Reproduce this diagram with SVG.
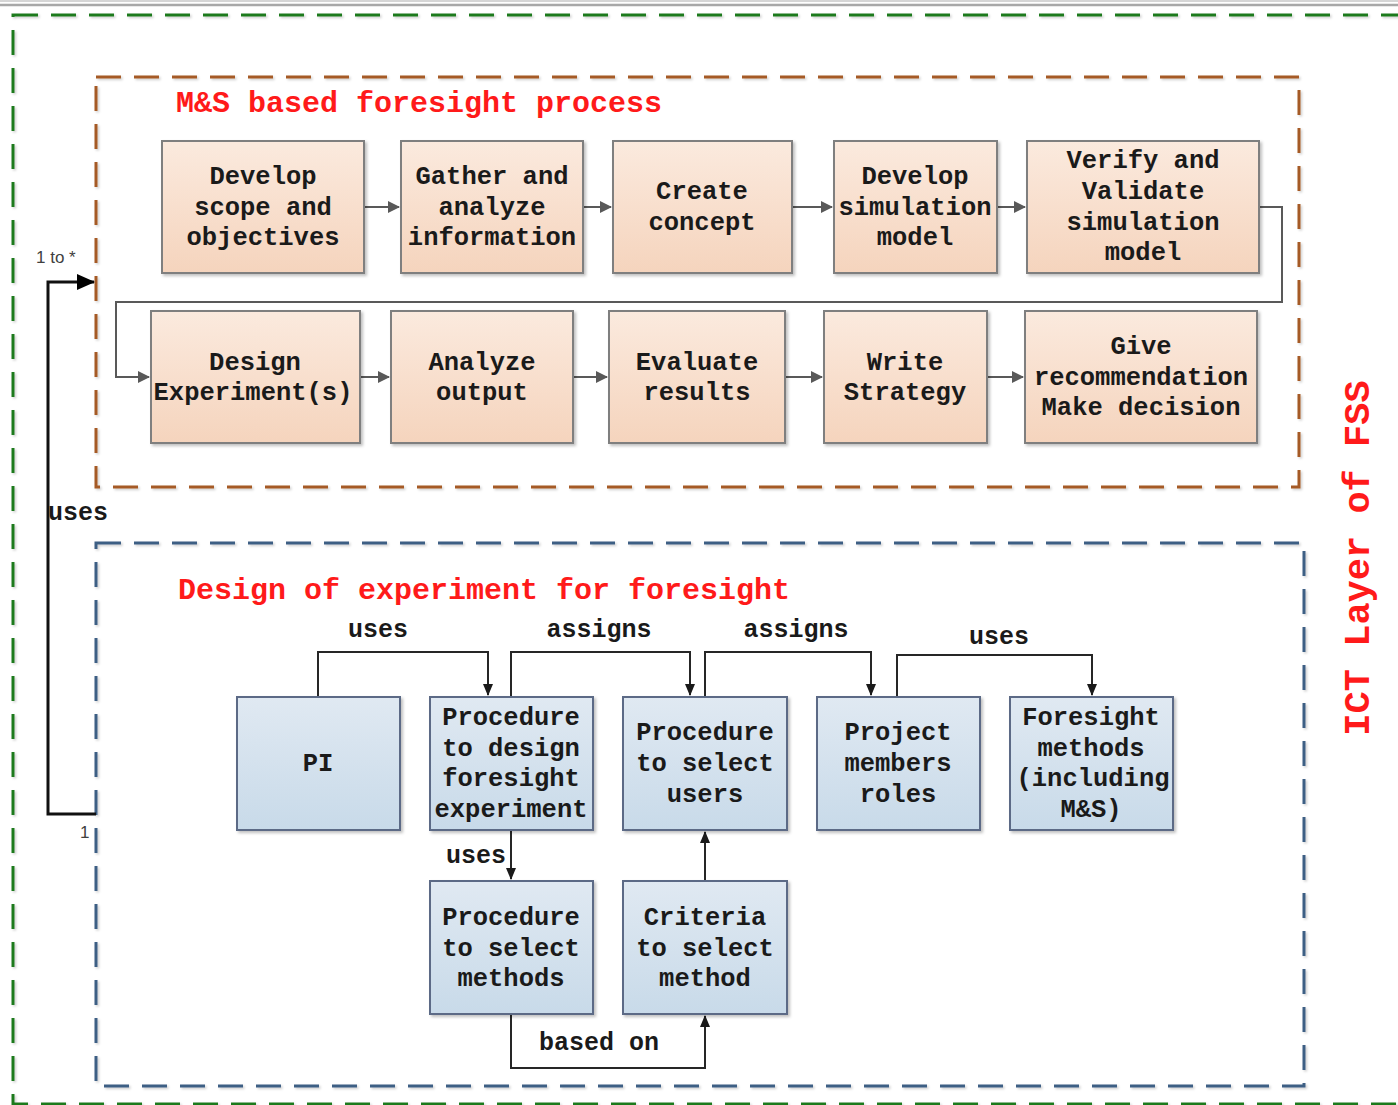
<svg xmlns="http://www.w3.org/2000/svg" width="1398" height="1105" viewBox="0 0 1398 1105">
<style>
.t{font-family:"Liberation Mono","Courier New",monospace;font-weight:bold;font-size:25.5px;fill:#1a1a1a;text-anchor:middle}
.lbl{font-family:"Liberation Mono","Courier New",monospace;font-weight:bold;font-size:25px;fill:#1a1a1a;text-anchor:middle}
.title{font-family:"Liberation Mono","Courier New",monospace;font-weight:bold;font-size:30px;fill:#ff1a1a}
.peach{fill:url(#gp);stroke:#7f7f7f;stroke-width:2;filter:url(#sh)}
.blue{fill:url(#gb);stroke:#5b6b86;stroke-width:2;filter:url(#sh)}
.gc{fill:none;stroke:#595959;stroke-width:2}
.bc{fill:none;stroke:#262626;stroke-width:2}
.dash{fill:none;stroke-width:3;stroke-dasharray:25 13;filter:url(#sh2)}
.small{font-family:"Liberation Sans",Arial,sans-serif;font-size:17px;fill:#404040}
</style>
<defs>
<linearGradient id="gp" x1="0" y1="0" x2="0" y2="1"><stop offset="0" stop-color="#fbeade"/><stop offset="1" stop-color="#f5d4bd"/></linearGradient>
<linearGradient id="gb" x1="0" y1="0" x2="0" y2="1"><stop offset="0" stop-color="#e0e9f2"/><stop offset="1" stop-color="#c8dae9"/></linearGradient>
<filter id="sh" x="-10%" y="-10%" width="120%" height="120%"><feDropShadow dx="2" dy="2" stdDeviation="1.5" flood-color="#000" flood-opacity="0.25"/></filter>
<filter id="sh2" x="-5%" y="-5%" width="110%" height="110%"><feDropShadow dx="1.5" dy="1.5" stdDeviation="1" flood-color="#000" flood-opacity="0.2"/></filter>
<marker id="ag" markerWidth="12" markerHeight="12" refX="11" refY="6" orient="auto" markerUnits="userSpaceOnUse"><path d="M0,0 L12,6 L0,12 z" fill="#595959"/></marker>
<marker id="ab" markerWidth="12" markerHeight="12" refX="11" refY="6" orient="auto" markerUnits="userSpaceOnUse"><path d="M0,1 L12,6 L0,11 z" fill="#1a1a1a"/></marker>
<marker id="ak" markerWidth="20" markerHeight="20" refX="17" refY="9" orient="auto" markerUnits="userSpaceOnUse"><path d="M0,1 L18,9 L0,17 z" fill="#000"/></marker>
</defs>
<rect width="1398" height="1105" fill="#fff"/>
<line x1="0" y1="1" x2="1398" y2="1" stroke="#c8c8c8" stroke-width="1.5"/>
<line x1="0" y1="5" x2="1398" y2="5" stroke="#a8a8a8" stroke-width="2.5"/>

<g id="frames">
<rect class="dash" x="13" y="15" width="1420" height="1089" stroke="#1e7a1e"/>
<rect class="dash" x="96" y="77" width="1203" height="410" stroke="#a55a26"/>
<rect class="dash" x="96" y="543" width="1208" height="543" stroke="#3d5f84"/>
</g>

<g id="titles">
<text class="title" x="176" y="112">M&amp;S based foresight process</text>
<text class="title" x="178" y="599">Design of experiment for foresight</text>
<text class="title" transform="translate(1369,558) rotate(-90)" text-anchor="middle" style="font-size:37px">ICT Layer of FSS</text>
</g>

<g id="connectors">
<path class="gc" d="M364,207 H399" marker-end="url(#ag)"/>
<path class="gc" d="M583,207 H611" marker-end="url(#ag)"/>
<path class="gc" d="M792,207 H832" marker-end="url(#ag)"/>
<path class="gc" d="M997,207 H1025" marker-end="url(#ag)"/>
<path class="gc" d="M1259,207 H1282 V302 H116 V377 H149" marker-end="url(#ag)"/>
<path class="gc" d="M360,377 H389" marker-end="url(#ag)"/>
<path class="gc" d="M573,377 H607" marker-end="url(#ag)"/>
<path class="gc" d="M785,377 H822" marker-end="url(#ag)"/>
<path class="gc" d="M987,377 H1023" marker-end="url(#ag)"/>

<path class="bc" d="M318,697 V652 H488 V695" marker-end="url(#ab)"/>
<path class="bc" d="M511,697 V652 H690 V695" marker-end="url(#ab)"/>
<path class="bc" d="M705,697 V652 H871 V695" marker-end="url(#ab)"/>
<path class="bc" d="M897,697 V655 H1092 V695" marker-end="url(#ab)"/>
<path class="bc" d="M511,830 V879" marker-end="url(#ab)"/>
<path class="bc" d="M705,881 V832" marker-end="url(#ab)"/>
<path class="bc" d="M511,1014 V1068 H705 V1016" marker-end="url(#ab)"/>

<path d="M96,814 H48 V282 H94" fill="none" stroke="#111" stroke-width="3" marker-end="url(#ak)"/>

<text class="lbl" x="378" y="637">uses</text>
<text class="lbl" x="599" y="637">assigns</text>
<text class="lbl" x="796" y="637">assigns</text>
<text class="lbl" x="999" y="644">uses</text>
<text class="lbl" x="476" y="863">uses</text>
<text class="lbl" x="599" y="1050">based on</text>
<text class="lbl" x="78" y="520">uses</text>
<text class="small" x="36" y="263">1 to *</text>
<text class="small" x="80" y="838">1</text>
</g>

<g id="n1"><rect class="peach" x="162" y="141" width="202" height="132"/>
<text class="t" x="263" y="184">Develop</text><text class="t" x="263" y="215">scope and</text><text class="t" x="263" y="245">objectives</text></g>
<g id="n2"><rect class="peach" x="401" y="141" width="182" height="132"/>
<text class="t" x="492" y="184">Gather and</text><text class="t" x="492" y="215">analyze</text><text class="t" x="492" y="245">information</text></g>
<g id="n3"><rect class="peach" x="613" y="141" width="179" height="132"/>
<text class="t" x="702" y="199">Create</text><text class="t" x="702" y="230">concept</text></g>
<g id="n4"><rect class="peach" x="834" y="141" width="163" height="132"/>
<text class="t" x="915" y="184">Develop</text><text class="t" x="915" y="215">simulation</text><text class="t" x="915" y="245">model</text></g>
<g id="n5"><rect class="peach" x="1027" y="141" width="232" height="132"/>
<text class="t" x="1143" y="168">Verify and</text><text class="t" x="1143" y="199">Validate</text><text class="t" x="1143" y="230">simulation</text><text class="t" x="1143" y="260">model</text></g>

<g id="n6"><rect class="peach" x="151" y="311" width="209" height="132"/>
<text class="t" x="255" y="370">Design</text><text class="t" x="253" y="400">Experiment(s)</text></g>
<g id="n7"><rect class="peach" x="391" y="311" width="182" height="132"/>
<text class="t" x="482" y="370">Analyze</text><text class="t" x="482" y="400">output</text></g>
<g id="n8"><rect class="peach" x="609" y="311" width="176" height="132"/>
<text class="t" x="697" y="370">Evaluate</text><text class="t" x="697" y="400">results</text></g>
<g id="n9"><rect class="peach" x="824" y="311" width="163" height="132"/>
<text class="t" x="905" y="370">Write</text><text class="t" x="905" y="400">Strategy</text></g>
<g id="n10"><rect class="peach" x="1025" y="311" width="232" height="132"/>
<text class="t" x="1141" y="354">Give</text><text class="t" x="1141" y="385">recommendation</text><text class="t" x="1141" y="415">Make decision</text></g>

<g id="b1"><rect class="blue" x="237" y="697" width="163" height="133"/>
<text class="t" x="318" y="771">PI</text></g>
<g id="b2"><rect class="blue" x="430" y="697" width="163" height="133"/>
<text class="t" x="511" y="725">Procedure</text><text class="t" x="511" y="756">to design</text><text class="t" x="511" y="786">foresight</text><text class="t" x="511" y="817">experiment</text></g>
<g id="b3"><rect class="blue" x="623" y="697" width="164" height="133"/>
<text class="t" x="705" y="740">Procedure</text><text class="t" x="705" y="771">to select</text><text class="t" x="705" y="802">users</text></g>
<g id="b4"><rect class="blue" x="817" y="697" width="163" height="133"/>
<text class="t" x="898" y="740">Project</text><text class="t" x="898" y="771">members</text><text class="t" x="898" y="802">roles</text></g>
<g id="b5"><rect class="blue" x="1010" y="697" width="163" height="133"/>
<text class="t" x="1091" y="725">Foresight</text><text class="t" x="1091" y="756">methods</text><text class="t" x="1093" y="786">(including</text><text class="t" x="1091" y="817">M&amp;S)</text></g>
<g id="b6"><rect class="blue" x="430" y="881" width="163" height="133"/>
<text class="t" x="511" y="925">Procedure</text><text class="t" x="511" y="956">to select</text><text class="t" x="511" y="986">methods</text></g>
<g id="b7"><rect class="blue" x="623" y="881" width="164" height="133"/>
<text class="t" x="705" y="925">Criteria</text><text class="t" x="705" y="956">to select</text><text class="t" x="705" y="986">method</text></g>
</svg>
